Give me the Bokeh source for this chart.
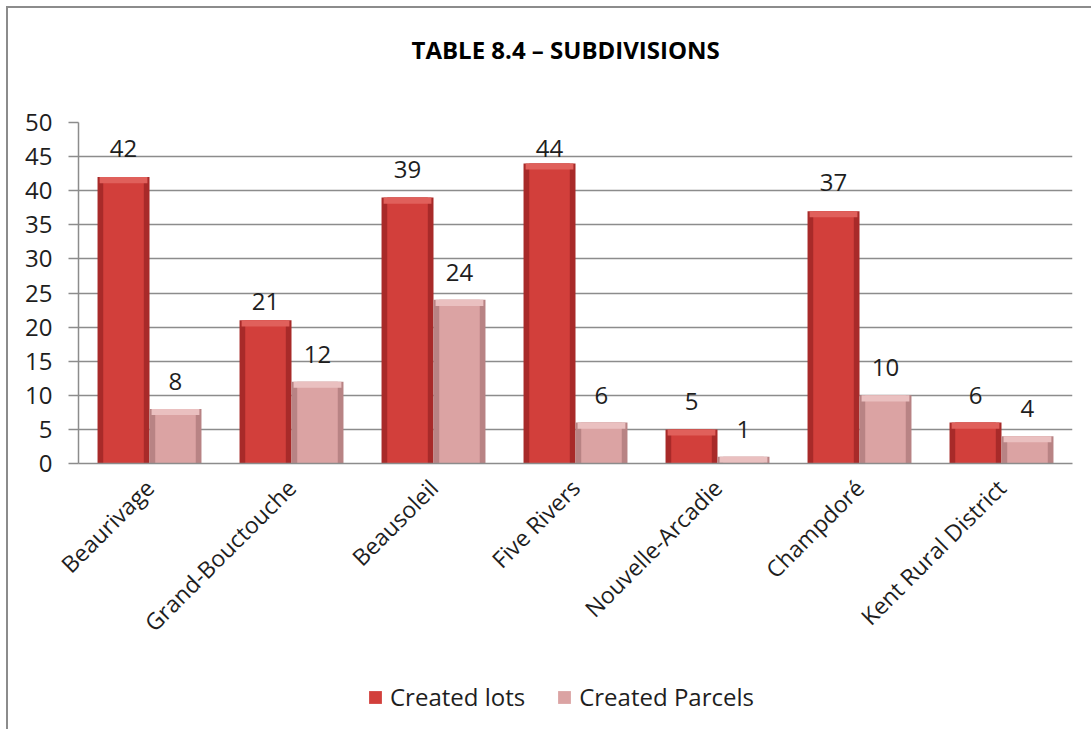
import math
from bokeh.plotting import figure
from bokeh.layouts import column
from bokeh.models import (ColumnDataSource, LabelSet, Legend, LegendItem,
                          FixedTicker, Range1d, FactorRange)
from bokeh.transform import dodge
from bokeh.embed import file_html
from bokeh.resources import INLINE
from bokeh.core.properties import value

# ---------------- data ----------------
categories = ["Beaurivage", "Grand-Bouctouche", "Beausoleil", "Five Rivers",
              "Nouvelle-Arcadie", "Champdoré", "Kent Rural District"]
created_lots = [42, 21, 39, 44, 5, 37, 6]
created_parcels = [8, 12, 24, 6, 1, 10, 4]
y_ticks = [0, 5, 10, 15, 20, 25, 30, 35, 40, 45, 50]
series_names = ["Created lots", "Created Parcels"]
title_text = "TABLE 8.4 \u2013 SUBDIVISIONS"

# label lift above bar tops (pixels, styling only)
lots_label_lift = [20, 10, 20, 6, 19, 20, 19]
parcels_label_lift = [19, 19, 19, 19, 19, 19, 19]

FONT = "Open Sans"
TXT = "#1e1e1e"
GRID = "#8c8c8c"
LOTS_COLORS = ("#a82a29", "#d23f3b", "#e0605b")
PARC_COLORS = ("#b88384", "#dba3a3", "#eac0c0")

BAR_W = 0.366
OFF = BAR_W / 2
PAGE_OFF = 8          # css margin + border of the outer chart box
W = 1091 - PAGE_OFF
TITLE_H = 80
MAIN_H = 660 - PAGE_OFF - TITLE_H
LEG_H = 729 - 660

lots_src = ColumnDataSource(dict(
    cat=categories, v=created_lots,
    bevel=[max(v - 0.9, 0) for v in created_lots],
    txt=[str(v) for v in created_lots], lift=lots_label_lift))
parc_src = ColumnDataSource(dict(
    cat=categories, v=created_parcels,
    bevel=[max(v - 0.9, 0) for v in created_parcels],
    txt=[str(v) for v in created_parcels], lift=parcels_label_lift))

# ---------- title strip ----------
tf = figure(width=W, height=TITLE_H, output_backend="svg", toolbar_location=None,
            x_axis_type=None, y_axis_type=None, min_border=0,
            background_fill_color="white", border_fill_color="white")
tf.outline_line_color = None
tf.grid.visible = False
tf.title.text = title_text
tf.title.align = "left"
tf.title.offset = 333
tf.title.text_font = FONT
tf.title.text_font_size = "24px"
tf.title.text_font_style = "bold"
tf.title.text_color = "#000000"
tf.title.standoff = 46

# ---------- main chart ----------
p = figure(width=W, height=MAIN_H, output_backend="svg", toolbar_location=None,
           x_range=FactorRange(*categories, range_padding=0),
           y_range=Range1d(0, 50),
           min_border_left=78 - PAGE_OFF, min_border_right=W - (1072 - PAGE_OFF),
           min_border_top=122 - PAGE_OFF - TITLE_H,
           min_border_bottom=MAIN_H - (463 - PAGE_OFF - TITLE_H),
           background_fill_color="white", border_fill_color="white")
p.outline_line_color = None

p.xgrid.grid_line_color = None
p.ygrid.grid_line_color = GRID
p.ygrid.grid_line_width = 1.5
p.yaxis.ticker = FixedTicker(ticks=y_ticks)
p.yaxis.axis_line_color = GRID
p.yaxis.axis_line_width = 1.5
p.yaxis.major_tick_line_color = GRID
p.yaxis.major_tick_line_width = 1.5
p.yaxis.major_tick_out = 10
p.yaxis.major_tick_in = 0
p.yaxis.minor_tick_line_color = None
p.yaxis.major_label_standoff = 16
p.yaxis.major_label_text_font = FONT
p.yaxis.major_label_text_font_size = "24px"
p.yaxis.major_label_text_color = TXT

p.xaxis.axis_line_color = GRID
p.xaxis.axis_line_width = 1.5
p.xaxis.major_tick_line_color = None
p.xaxis.minor_tick_line_color = None
p.xaxis.major_label_orientation = math.pi / 4
p.xaxis.major_label_standoff = 14
p.xaxis.major_label_text_font = FONT
p.xaxis.major_label_text_font_size = "23px"
p.xaxis.major_label_text_color = TXT

# bars with a simple bevel look
def bars(src, off, colors):
    edge, main, light = colors
    x = dodge("cat", off, range=p.x_range)
    p.vbar(x=x, top="v", bottom=0, width=BAR_W, source=src,
           fill_color=edge, line_color=None)
    p.vbar(x=x, top="v", bottom=0, width=BAR_W * 0.78, source=src,
           fill_color=main, line_color=None)
    p.vbar(x=x, top="v", bottom="bevel", width=BAR_W * 0.92, source=src,
           fill_color=light, line_color=None)

bars(lots_src, -OFF, LOTS_COLORS)
bars(parc_src, OFF, PARC_COLORS)

# value labels
for src, off in ((lots_src, -OFF), (parc_src, OFF)):
    p.add_layout(LabelSet(x=dodge("cat", off, range=p.x_range), y="v",
                          text="txt", y_offset="lift", source=src,
                          text_align="center", text_baseline="alphabetic",
                          text_font=value(FONT), text_font_size=value("24px"),
                          text_color=TXT))

# ---------- legend strip ----------
# swatch renderers hold the same series but sit outside the visible range
lp = figure(width=W, height=LEG_H, output_backend="svg", toolbar_location=None,
            x_range=FactorRange(*categories, range_padding=0),
            y_range=Range1d(60, 61),
            x_axis_type=None, y_axis_type=None, min_border=0,
            background_fill_color="white", border_fill_color="white")
lp.outline_line_color = None
lp.grid.visible = False
sw_lots = lp.vbar(x="cat", top="v", bottom=0, width=BAR_W, source=lots_src,
                  fill_color=LOTS_COLORS[1], line_color=None)
sw_parc = lp.vbar(x="cat", top="v", bottom=0, width=BAR_W, source=parc_src,
                  fill_color=PARC_COLORS[1], line_color=None)
legend = Legend(items=[LegendItem(label=series_names[0], renderers=[sw_lots]),
                       LegendItem(label=series_names[1], renderers=[sw_parc])],
                orientation="horizontal", location=(367 - 78, 16),
                glyph_width=16, glyph_height=16, label_standoff=7, spacing=31,
                padding=0, margin=0, border_line_color=None,
                background_fill_alpha=0,
                label_text_font=FONT, label_text_font_size="24px",
                label_text_color=TXT)
lp.add_layout(legend, "center")

page = column(tf, p, lp, spacing=0,
              styles={"margin-left": "6px", "margin-top": "6px",
                      "border-left": "2px solid #8c8c8c",
                      "border-top": "2px solid #8c8c8c"})

open("out.html", "w").write(file_html(page, INLINE))
